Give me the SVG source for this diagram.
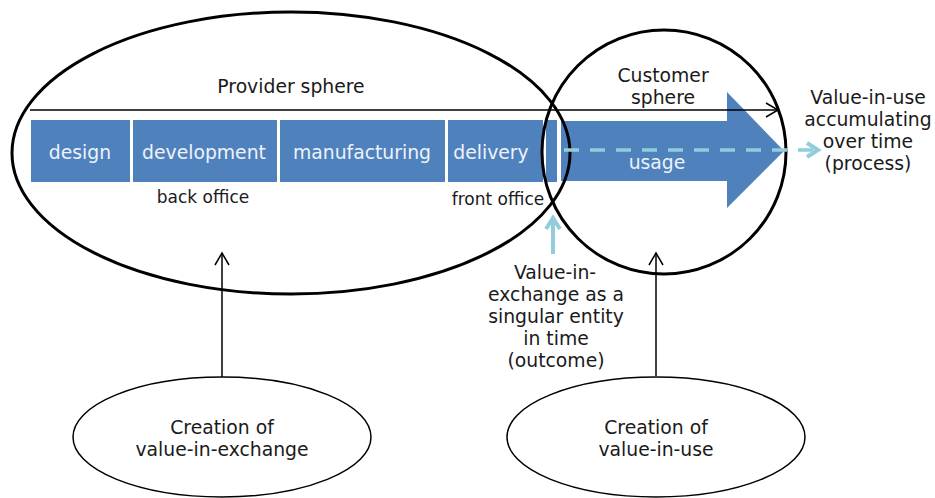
<svg xmlns="http://www.w3.org/2000/svg" width="935" height="498" viewBox="0 0 935 498">
<defs>
<style>
text{font-family:"DejaVu Sans","Liberation Sans",sans-serif;font-size:18.8px;fill:#1a1a1a;text-anchor:middle}
.w{fill:#eef2fa}
.s{font-size:17px}
.box{fill:#4f81bd}
.big{fill:none;stroke:#000;stroke-width:3}
.small{fill:#fff;stroke:#000;stroke-width:1.5}
.ln{stroke:#000;stroke-width:1.5;fill:none}
.lb{stroke:#92cddc;fill:none}
</style>
<marker id="ah" markerWidth="16" markerHeight="16" refX="13" refY="8" orient="auto" markerUnits="userSpaceOnUse">
<path d="M1,1 L13,8 L1,15" fill="none" stroke="#000" stroke-width="1.5"/>
</marker>
<marker id="lbh" markerWidth="20" markerHeight="20" refX="14" refY="10" orient="auto" markerUnits="userSpaceOnUse">
<path d="M3,3 L14,10 L3,17" fill="none" stroke="#92cddc" stroke-width="4"/>
</marker>
</defs>
<rect width="935" height="498" fill="#fff"/>

<g id="design"><rect class="box" x="31" y="120" width="99" height="62"/><text class="w" x="80" y="159">design</text></g>
<g id="development"><rect class="box" x="133" y="120" width="144" height="62"/><text class="w" x="204" y="159">development</text></g>
<g id="manufacturing"><rect class="box" x="280" y="120" width="165" height="62"/><text class="w" x="362" y="159">manufacturing</text></g>
<g id="delivery"><rect class="box" x="448" y="120" width="95" height="62"/><text class="w" x="491" y="159">delivery</text></g>
<g id="strip"><rect class="box" x="546" y="120" width="11" height="62"/></g>
<g id="usage"><path class="box" d="M561,121 H727 V92 L784,151 L727,208 V181 H561 Z"/><text class="w" x="657" y="169">usage</text></g>

<g id="provider-sphere"><ellipse class="big" cx="291" cy="153" rx="279" ry="141"/><text x="291" y="93">Provider sphere</text></g>
<g id="customer-sphere"><circle class="big" cx="664" cy="152" r="122"/><text x="663" y="82">Customer</text><text x="663" y="104">sphere</text></g>

<g id="back-office"><text class="s" x="203" y="203">back office</text></g>
<g id="front-office"><text class="s" x="498" y="205">front office</text></g>

<g id="value-in-exchange-label"><text x="555" y="279">Value-in-</text><text x="556" y="301">exchange as a</text><text x="556" y="323">singular entity</text><text x="556" y="345">in time</text><text x="556" y="367">(outcome)</text></g>
<g id="value-in-use-label"><text x="868" y="104">Value-in-use</text><text x="868" y="126">accumulating</text><text x="868" y="148">over time</text><text x="868" y="170">(process)</text></g>

<g id="creation-exchange"><ellipse class="small" cx="222" cy="437" rx="149" ry="60"/><text x="222" y="434">Creation of</text><text x="222" y="456">value-in-exchange</text></g>
<g id="creation-use"><ellipse class="small" cx="656" cy="437" rx="149" ry="60"/><text x="656" y="434">Creation of</text><text x="656" y="456">value-in-use</text></g>

<g id="connectors">
<line class="ln" x1="30" y1="110" x2="778" y2="110" marker-end="url(#ah)"/>
<line class="lb" x1="564" y1="150" x2="818" y2="150" stroke-width="3.5" stroke-dasharray="15,11" marker-end="url(#lbh)"/>
<line class="lb" x1="553" y1="254" x2="553" y2="218" stroke-width="4" marker-end="url(#lbh)"/>
<line class="ln" x1="222" y1="377" x2="222" y2="253" marker-end="url(#ah)"/>
<line class="ln" x1="656" y1="376" x2="656" y2="253" marker-end="url(#ah)"/>
</g>
</svg>
